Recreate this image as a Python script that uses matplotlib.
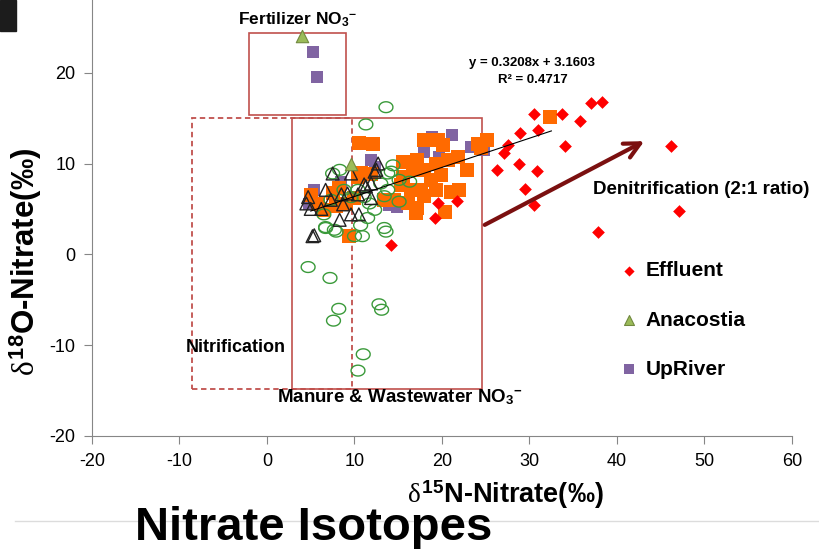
import matplotlib
matplotlib.use("Agg")
import matplotlib.pyplot as plt
import numpy as np
from matplotlib.path import Path
from matplotlib.patches import Rectangle

plt.rcParams['font.family'] = ['Liberation Sans', 'DejaVu Sans']
plt.rcParams['axes.unicode_minus'] = False
plt.rcParams['mathtext.fontset'] = 'custom'
plt.rcParams['mathtext.rm'] = 'Liberation Sans:bold'
plt.rcParams['mathtext.it'] = 'Liberation Serif'
plt.rcParams['mathtext.bf'] = 'Liberation Sans:bold'

# --- data (d15N, d18O) ---
effluent_x = [37.0, 38.3, 30.5, 33.7, 35.8, 28.9, 31.0, 27.6, 34.1, 46.2, 27.1,
              26.3, 28.8, 30.9, 29.5, 30.5, 47.1, 37.8, 19.5, 21.7, 19.2, 14.2]
effluent_y = [16.7, 16.8, 15.4, 15.5, 14.7, 13.4, 13.7, 12.0, 11.9, 11.9, 11.2,
              9.3, 9.9, 9.2, 7.2, 5.4, 4.8, 2.5, 5.7, 5.9, 4.0, 1.0]

anacostia_x = [4.0, 9.6]
anacostia_y = [24.0, 10.0]

upriver_x = [5.3, 5.7, 5.4, 11.9, 12.3, 13.9, 14.9, 18.0, 18.9, 21.2, 19.7,
             23.3, 24.8, 4.8, 8.5]
upriver_y = [22.3, 19.5, 7.1, 10.4, 9.6, 5.4, 5.2, 11.3, 12.9, 13.1, 10.7,
             11.8, 11.5, 5.5, 8.0]

orange_x = [10.5, 12.1, 10.7, 11.9, 7.5, 7.9, 10.0, 6.5, 5.8, 8.2, 9.4, 10.4,
            13.4, 9.0, 5.0, 15.5, 17.2, 17.9, 19.5, 20.1, 24.1, 25.2, 24.5,
            15.5, 16.7, 17.9, 19.3, 20.7, 21.8, 22.9, 18.7, 19.9, 16.5, 17.6,
            19.3, 21.0, 21.9, 16.1, 17.2, 17.9, 20.3, 17.0, 14.5, 15.3, 32.3]
orange_y = [12.3, 12.2, 9.0, 8.8, 6.7, 5.3, 6.2, 4.9, 5.5, 7.3, 2.0, 8.5,
            6.0, 5.5, 6.5, 10.2, 10.4, 12.6, 12.6, 12.0, 12.2, 12.6, 11.7,
            8.5, 9.3, 9.3, 9.9, 10.4, 10.7, 9.3, 8.2, 8.7, 7.1, 7.1,
            7.1, 6.9, 7.1, 5.6, 5.1, 6.4, 4.7, 4.6, 6.0, 7.6, 15.1]

tri_x = [7.5, 9.6, 12.3, 11.1, 11.9, 6.7, 4.7, 4.5, 5.0, 6.2, 8.5, 9.2, 10.4,
         8.3, 9.6, 10.5, 5.2, 11.9, 7.3, 8.7, 12.7, 12.5, 11.3, 5.4]
tri_y = [8.9, 8.9, 9.1, 7.7, 7.8, 7.1, 6.3, 5.6, 5.0, 5.0, 6.6, 6.7, 6.6,
         3.8, 4.4, 4.4, 2.0, 6.2, 6.0, 5.5, 10.0, 9.3, 7.5, 2.1]

circ_x = [13.6, 11.3, 4.7, 7.2, 8.2, 7.6, 12.8, 13.1, 11.0, 10.4, 13.4, 13.6,
          10.0, 10.9, 6.7, 7.9, 14.2, 15.1, 16.3, 13.8, 15.1, 13.4, 8.3, 7.5,
          11.1, 11.7, 12.3, 11.5, 10.7, 6.7, 7.7, 7.3, 6.5, 8.8, 9.6, 10.4,
          13.0, 13.8, 14.4]
circ_y = [16.2, 14.3, -1.4, -2.6, -6.0, -7.3, -5.5, -6.1, -11.0, -12.8, 2.9, 2.5,
          2.0, 2.0, 2.9, 2.5, 9.1, 8.2, 8.0, 7.1, 5.8, 6.4, 9.3, 8.9,
          6.3, 5.6, 4.9, 4.0, 3.2, 3.0, 2.7, 6.0, 4.4, 7.1, 6.3, 7.1,
          7.8, 8.9, 9.8]

slope, intercept = 0.3208, 3.1603
fit_x = np.array([5.0, 32.5])

box_col = '#C0504D'

fig = plt.figure(figsize=(8.2, 5.49), dpi=100)
ax = fig.add_axes([92/820, 1-436/549, 700/820, 436/549])

# region boxes
ax.add_patch(Rectangle((-2, 15.3), 11, 9.1, fill=False, ec=box_col, lw=1.2))
ax.add_patch(Rectangle((-8.6, -14.8), 18.3, 29.8, fill=False, ec=box_col, lw=1.3, ls=(0, (3, 2))))
ax.add_patch(Rectangle((2.9, -14.8), 21.7, 29.8, fill=False, ec=box_col, lw=1.2))

ell = np.linspace(0, 2*np.pi, 41)
ellipse = Path(np.column_stack([np.cos(ell), 0.78*np.sin(ell)]))

ax.scatter(upriver_x, upriver_y, marker='s', s=85, c='#8064A2', lw=0, zorder=3, label='UpRiver')
ax.scatter(orange_x, orange_y, marker='s', s=95, c='#FF6A00', lw=0, zorder=4)
ax.scatter(effluent_x, effluent_y, marker='D', s=42, c='#FF0000', lw=0, zorder=5, label='Effluent')
ax.scatter(circ_x, circ_y, marker=ellipse, s=100, facecolors='none', edgecolors='#3A9A3A', lw=1, zorder=6)
ax.scatter(tri_x, tri_y, marker='^', s=85, facecolors='none', edgecolors='#222222', lw=1, zorder=7)
ax.scatter(anacostia_x, anacostia_y, marker='^', s=80, c='#9BBB59', edgecolors='#71893F', lw=0.8, zorder=8, label='Anacostia')

ax.plot(fit_x, slope*fit_x + intercept, color='black', lw=0.8, zorder=9)

ax.annotate('', xy=(43.4, 12.6), xytext=(24.6, 3.1),
            arrowprops=dict(arrowstyle='->', lw=3, color='#7B1010', mutation_scale=28), zorder=10)

bold = dict(fontweight='bold', color='black')
ax.text(3.5, 25.8, 'Fertilizer NO$_3$$^{-}$', ha='center', va='center', fontsize=12.5, **bold)
ax.text(-9.3, -10.3, 'Nitrification', ha='left', va='center', fontsize=13, **bold)
ax.text(15.2, -15.7, 'Manure & Wastewater NO$_3$$^{-}$', ha='center', va='center', fontsize=13.5, **bold)
ax.text(49.6, 7.1, 'Denitrification (2:1 ratio)', ha='center', va='center', fontsize=13.5, **bold)
ax.text(30.3, 21.1, 'y = 0.3208x + 3.1603', ha='center', va='center', fontsize=9.5, **bold)
ax.text(30.4, 19.2, 'R² = 0.4717', ha='center', va='center', fontsize=9.5, **bold)

ax.set_xlim(-20, 60)
ax.set_ylim(-20, 28)
ax.set_xticks(np.arange(-20, 61, 10))
ax.set_yticks(np.arange(-20, 21, 10))
for s in ['top', 'right']:
    ax.spines[s].set_visible(False)
for s in ['left', 'bottom']:
    ax.spines[s].set_color('#868686')
ax.tick_params(direction='out', length=6, color='#868686', labelsize=13, pad=6)

ax.set_ylabel(r'$\delta^{18}$O-Nitrate(‰)', fontsize=22.5, fontweight='bold')
ax.yaxis.set_label_coords(-0.068, 0.40)
ax.set_xlabel(r'$\delta^{15}$N-Nitrate(‰)', fontsize=19.5, fontweight='bold')
ax.xaxis.set_label_coords(0.59, -0.097)

h, l = ax.get_legend_handles_labels()
order = [l.index('Effluent'), l.index('Anacostia'), l.index('UpRiver')]
leg = ax.legend([h[i] for i in order], [l[i] for i in order], loc='center left',
                bbox_to_anchor=(600/820, 1-320/549), bbox_transform=fig.transFigure,
                frameon=False, labelspacing=1.45, handletextpad=0.3, handlelength=1.0,
                markerscale=0.8, prop={'weight': 'bold', 'size': 15})

# slide decorations
fig.add_artist(Rectangle((0, 1-31/549), 16/820, 31/549, transform=fig.transFigure, color='#1c1c1c'))
fig.add_artist(plt.Line2D([15/820, 1], [1-521/549]*2, transform=fig.transFigure, color='#dcdcdc', lw=1))
fig.text(135/820, 1-540/549, 'Nitrate Isotopes', fontsize=34, fontweight='bold', va='baseline', ha='left')

fig.savefig('out.png', dpi=100)
